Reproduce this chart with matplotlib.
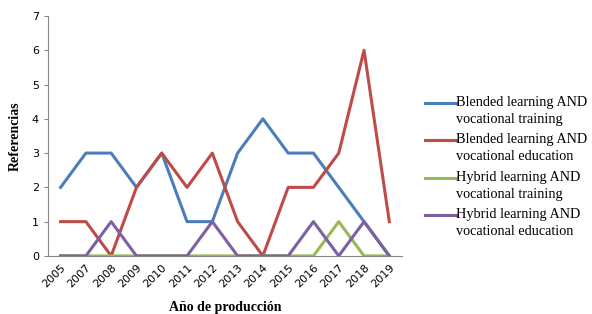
import matplotlib
matplotlib.use("Agg")
import matplotlib.pyplot as plt
from matplotlib.lines import Line2D

# Data
years = ["2005", "2007", "2008", "2009", "2010", "2011", "2012",
         "2013", "2014", "2015", "2016", "2017", "2018", "2019"]
blended_training = [2, 3, 3, 2, 3, 1, 1, 3, 4, 3, 3, 2, 1, 0]
blended_education = [1, 1, 0, 2, 3, 2, 3, 1, 0, 2, 2, 3, 6, 1]
hybrid_training = [0, 0, 0, 0, 0, 0, 0, 0, 0, 0, 0, 1, 0, 0]
hybrid_education = [0, 0, 1, 0, 0, 0, 1, 0, 0, 0, 1, 0, 1, 0]

series = [
    ("Blended learning AND\nvocational training", blended_training, "#4A7EBB"),
    ("Blended learning AND\nvocational education", blended_education, "#BE4B48"),
    ("Hybrid learning AND\nvocational training", hybrid_training, "#98B954"),
    ("Hybrid learning AND\nvocational education", hybrid_education, "#7D60A0"),
]

W, H = 592, 314
fig = plt.figure(figsize=(W / 100, H / 100), dpi=100)
ax = fig.add_axes([0.081, 0.185, 0.598, 0.764])

x = range(len(years))
for label, vals, color in series:
    ax.plot(x, vals, color=color, lw=2.2, label=label)

ax.set_xlim(-0.5, len(years) - 0.5)
ax.set_ylim(0, 7)
ax.set_yticks(range(0, 8))
ax.set_xticks(list(x))
ax.set_xticklabels(years, rotation=45, ha="right", rotation_mode="anchor")
ax.tick_params(axis="x", length=0, labelsize=8, pad=5)
ax.tick_params(axis="y", length=3, labelsize=8, color="#888888")
for t in ax.get_xticklabels() + ax.get_yticklabels():
    t.set_fontfamily("DejaVu Sans")

for s in ["top", "right"]:
    ax.spines[s].set_visible(False)
for s in ["left", "bottom"]:
    ax.spines[s].set_color("#888888")
    ax.spines[s].set_linewidth(0.8)

ax.set_ylabel("Referencias", fontfamily="Liberation Serif", fontweight="bold",
              fontsize=10, labelpad=7)
fig.text(225 / W, 1 - 307 / H, "Año de producción", fontfamily="Liberation Serif",
         fontweight="bold", fontsize=10, ha="center", va="center")

# legend: handle aligned with the first text line of each entry
for i, (label, vals, color) in enumerate(series):
    yc = 1 - (103 + i * 37.3) / H
    fig.add_artist(Line2D([425 / W, 456 / W], [yc, yc], color=color, lw=2.2,
                          transform=fig.transFigure))
    fig.text(456 / W, yc + 7 / H, label, fontfamily="Liberation Serif", fontsize=10.3,
             ha="left", va="top", linespacing=1.4)

fig.savefig("out.png", dpi=100)
